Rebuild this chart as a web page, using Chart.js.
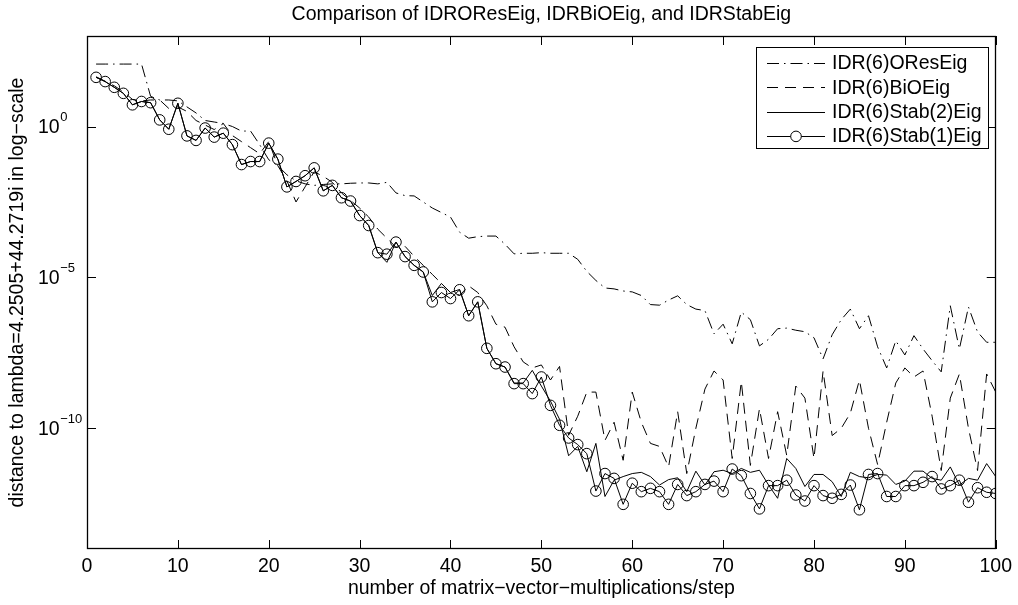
<!DOCTYPE html>
<html>
<head>
<meta charset="utf-8">
<script src="https://cdn.jsdelivr.net/npm/chart.js@4.4.1/dist/chart.umd.min.js"></script>
<style>
  html, body { margin: 0; padding: 0; background: #fff; }
  #wrap { width: 1018px; height: 605px; }
</style>
</head>
<body>
<div id="wrap"><canvas id="chart" width="1018" height="605"></canvas></div>
<script>
const FONT = '"Liberation Sans", Arial, Helvetica, sans-serif';
const titleText = 'Comparison of IDROResEig, IDRBiOEig, and IDRStabEig';

// x: step number
const steps = [1,2,3,4,5,6,7,8,9,10,11,12,13,14,15,16,17,18,19,20,
	21,22,23,24,25,26,27,28,29,30,31,32,33,34,35,36,37,38,39,40,
	41,42,43,44,45,46,47,48,49,50,51,52,53,54,55,56,57,58,59,60,
	61,62,63,64,65,66,67,68,69,70,71,72,73,74,75,76,77,78,79,80,
	81,82,83,84,85,86,87,88,89,90,91,92,93,94,95,96,97,98,99,100];

const seriesNames = ['IDR(6)OResEig', 'IDR(6)BiOEig', 'IDR(6)Stab(2)Eig', 'IDR(6)Stab(1)Eig'];

// values, kept as exponents (log10 of the distance)
const oresExp = [2.07,2.07,2.07,2.07,2.07,2.07,1.0,0.88,0.88,0.85,
	0.65,0.45,0.2,0.15,0.1,0.0,-0.15,-0.15,-0.6,-1.1,
	-1.3,-1.6,-1.8,-1.9,-1.95,-1.92,-1.9,-1.9,-1.88,-1.87,
	-1.87,-1.9,-1.85,-2.2,-2.29,-2.3,-2.5,-2.7,-2.85,-3.0,
	-3.5,-3.7,-3.65,-3.63,-3.63,-3.9,-4.22,-4.2,-4.2,-4.18,
	-4.2,-4.2,-4.2,-4.4,-4.8,-5.1,-5.35,-5.38,-5.45,-5.48,
	-5.6,-5.9,-5.92,-5.75,-5.61,-5.9,-6.05,-6.1,-6.87,-6.55,
	-7.2,-6.15,-6.4,-7.27,-7.05,-6.7,-6.68,-6.75,-6.8,-7.0,
	-7.7,-6.9,-6.4,-6.05,-6.7,-6.27,-7.3,-8.0,-7.1,-7.57,
	-6.93,-7.37,-7.76,-8.13,-5.94,-7.37,-5.98,-6.81,-7.15,-7.15];

const bioExp = [1.65,1.5,1.35,1.15,0.9,0.85,0.88,0.88,0.6,0.65,
	0.5,0.2,0.05,-0.1,0.1,-0.3,-0.5,-0.7,-0.9,-0.5,
	-1.3,-1.8,-2.5,-2.0,-1.5,-1.65,-1.85,-2.2,-2.45,-2.7,
	-3.0,-3.4,-3.7,-4.0,-3.97,-4.3,-4.6,-4.9,-5.2,-5.5,
	-5.6,-5.28,-5.5,-5.94,-6.55,-6.65,-7.3,-7.8,-8.0,-7.9,
	-8.4,-7.95,-10.23,-9.6,-8.8,-8.8,-10.4,-9.8,-11.06,-8.8,
	-9.8,-10.5,-10.6,-11.28,-9.45,-11.5,-10.0,-8.7,-8.1,-8.4,
	-11.0,-8.45,-11.23,-9.35,-11.0,-9.45,-10.9,-8.6,-9.0,-11.0,
	-8.1,-10.24,-10.0,-9.5,-8.4,-10.0,-11.2,-9.8,-8.5,-8.0,
	-8.3,-8.1,-9.6,-11.4,-9.0,-8.2,-10.0,-11.4,-8.2,-8.8];

const stab2Exp = [1.63,1.49,1.30,1.10,0.72,0.83,0.79,0.22,-0.09,0.77,
	-0.31,-0.46,-0.05,-0.35,-0.22,-0.60,-1.26,-1.16,-1.16,-0.55,
	-1.08,-2.00,-1.82,-1.63,-1.37,-2.13,-1.95,-2.36,-2.47,-2.95,
	-3.28,-4.18,-4.5,-3.83,-4.31,-4.60,-4.82,-5.6,-5.2,-5.5,
	-5.4,-6.27,-5.81,-7.35,-7.86,-7.97,-8.5,-8.5,-8.08,-8.6,
	-9.1,-9.7,-10.91,-10.6,-11.44,-10.50,-12.26,-11.72,-11.60,-11.50,
	-11.46,-11.60,-11.88,-11.70,-11.64,-12.10,-11.42,-11.88,-11.44,-11.39,
	-11.50,-11.33,-11.46,-11.39,-11.88,-12.32,-11.0,-11.33,-11.93,-11.53,
	-11.53,-11.77,-12.26,-11.46,-11.60,-11.64,-11.53,-11.55,-11.86,-11.75,
	-11.42,-11.42,-11.66,-11.72,-11.28,-11.88,-11.66,-11.72,-11.17,-11.60];

const stab1Exp = [1.63,1.49,1.30,1.10,0.72,0.83,0.79,0.22,-0.09,0.77,
	-0.31,-0.46,-0.05,-0.35,-0.22,-0.60,-1.26,-1.16,-1.16,-0.55,
	-1.08,-2.00,-1.82,-1.63,-1.37,-2.13,-1.95,-2.36,-2.47,-2.95,
	-3.28,-4.18,-4.23,-3.83,-4.31,-4.60,-4.82,-5.81,-5.50,-5.70,
	-5.41,-6.27,-5.81,-7.35,-7.86,-7.97,-8.52,-8.52,-8.85,-8.30,
	-9.24,-9.90,-10.32,-10.54,-10.84,-12.08,-11.50,-11.66,-12.52,-11.82,
	-12.10,-11.99,-12.10,-12.52,-11.86,-12.23,-12.10,-11.86,-11.75,-12.10,
	-11.35,-11.57,-12.16,-12.67,-11.90,-11.90,-11.72,-12.21,-12.41,-11.90,
	-12.23,-12.32,-12.19,-11.88,-12.70,-11.53,-11.50,-12.26,-12.26,-11.90,
	-11.90,-11.79,-11.60,-12.01,-11.90,-11.72,-12.45,-11.97,-12.12,-12.16];

const xTicks = [0,10,20,30,40,50,60,70,80,90,100];
const yTickExps = [0,-5,-10];

const toPoints = exps => steps.map((s, i) => ({x: s, y: Math.pow(10, exps[i])}));

const lineBase = {
	borderColor: '#000',
	borderWidth: 1,
	pointRadius: 0,
	tension: 0,
	fill: false
};

const datasets = [
	Object.assign({}, lineBase, {label: seriesNames[0], data: toPoints(oresExp), borderDash: [12, 5, 1.5, 5]}),
	Object.assign({}, lineBase, {label: seriesNames[1], data: toPoints(bioExp), borderDash: [11, 7]}),
	Object.assign({}, lineBase, {label: seriesNames[2], data: toPoints(stab2Exp), borderDash: []}),
	Object.assign({}, lineBase, {label: seriesNames[3], data: toPoints(stab1Exp), borderDash: [],
		pointRadius: 5.3, pointStyle: 'circle', pointBorderColor: '#000',
		pointBackgroundColor: 'rgba(0,0,0,0)', pointBorderWidth: 1})
];

// matlab-like box, inward ticks, 10^n labels, title and legend
const matlabAxes = {
	id: 'matlabAxes',
	afterDatasetsDraw(chart) {
		const {ctx, chartArea: a, scales: {x, y}} = chart;
		ctx.save();
		ctx.strokeStyle = '#000';
		ctx.lineWidth = 1;
		ctx.beginPath();
		xTicks.forEach(v => {
			const px = Math.round(x.getPixelForValue(v)) + 0.5;
			ctx.moveTo(px, a.bottom); ctx.lineTo(px, a.bottom - 9);
			ctx.moveTo(px, a.top); ctx.lineTo(px, a.top + 9);
		});
		yTickExps.forEach(e => {
			const py = Math.round(y.getPixelForValue(Math.pow(10, e))) + 0.5;
			ctx.moveTo(a.left, py); ctx.lineTo(a.left + 9, py);
			ctx.moveTo(a.right, py); ctx.lineTo(a.right - 9, py);
		});
		ctx.stroke();
		ctx.lineWidth = 1.3;
		ctx.strokeRect(Math.round(a.left) + 0.5, Math.round(a.top) + 0.5,
			Math.round(a.width) - 1, Math.round(a.height) - 1);

		// title centred over the axes
		ctx.fillStyle = '#000';
		ctx.font = '19.5px ' + FONT;
		ctx.textAlign = 'center';
		ctx.textBaseline = 'alphabetic';
		ctx.fillText(titleText, (a.left + a.right) / 2, 20);

		// y tick labels
		ctx.textBaseline = 'middle';
		ctx.textAlign = 'left';
		yTickExps.forEach(e => {
			const py = y.getPixelForValue(Math.pow(10, e));
			ctx.font = '19.5px ' + FONT;
			ctx.fillText('10', 38, py + 1);
			const w = ctx.measureText('10').width;
			ctx.font = '13px ' + FONT;
			ctx.fillText(e === 0 ? '0' : '\u2212' + Math.abs(e), 38 + w + 0.5, py - 9);
		});

		// legend
		const lx = 756, ly = 47, lw = 232, lh = 101;
		ctx.fillStyle = '#fff';
		ctx.fillRect(lx, ly, lw, lh);
		ctx.lineWidth = 1;
		ctx.strokeStyle = '#000';
		ctx.strokeRect(lx + 0.5, ly + 0.5, lw, lh);
		ctx.font = '19.5px ' + FONT;
		chart.data.datasets.forEach((ds, i) => {
			const ry = 63 + i * 24.3;
			ctx.setLineDash(ds.borderDash || []);
			ctx.beginPath();
			ctx.moveTo(767, Math.round(ry) + 0.5);
			ctx.lineTo(825, Math.round(ry) + 0.5);
			ctx.stroke();
			ctx.setLineDash([]);
			if (ds.pointRadius > 0) {
				ctx.fillStyle = '#fff';
				ctx.beginPath();
				ctx.arc(796, ry + 0.5, ds.pointRadius, 0, Math.PI * 2);
				ctx.fill();
				ctx.stroke();
			}
			ctx.fillStyle = '#000';
			ctx.fillText(ds.label, 832, ry + 1);
		});
		ctx.restore();
	}
};

const ctx = document.getElementById('chart').getContext('2d');
const chart = new Chart(ctx, {
	type: 'line',
	data: {datasets: datasets},
	plugins: [matlabAxes],
	options: {
		responsive: false,
		animation: false,
		layout: {padding: {left: 0, right: 20, top: 36, bottom: 0}},
		plugins: {
			legend: {display: false},
			tooltip: {enabled: false},
			title: {display: false}
		},
		scales: {
			x: {
				type: 'linear',
				min: 0,
				max: 100,
				afterBuildTicks: s => { s.ticks = xTicks.map(v => ({value: v})); },
				afterFit: s => { s.height = 56; },
				ticks: {color: '#000', font: {family: FONT, size: 19.5}, padding: 6, maxRotation: 0},
				grid: {display: false, drawTicks: false},
				border: {display: false},
				title: {
					display: true,
					text: 'number of matrix\u2212vector\u2212multiplications/step',
					color: '#000',
					font: {family: FONT, size: 19.5},
					padding: {top: 0, bottom: 5}
				}
			},
			y: {
				type: 'logarithmic',
				min: 1e-14,
				max: 1e3,
				afterFit: s => { s.width = 87; },
				ticks: {display: false},
				grid: {display: false, drawTicks: false},
				border: {display: false},
				title: {
					display: true,
					text: 'distance to lambda=4.2505+44.2719i in log\u2212scale',
					color: '#000',
					font: {family: FONT, size: 19.5},
					padding: {top: 6, bottom: 0}
				}
			}
		}
	}
});
</script>
</body>
</html>
